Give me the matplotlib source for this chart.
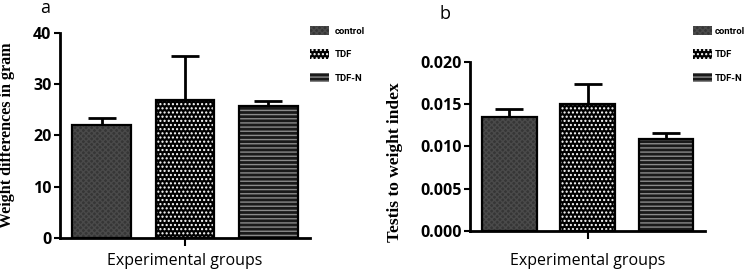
import matplotlib
matplotlib.use("Agg")
import matplotlib.pyplot as plt
from matplotlib.patches import Patch
import numpy as np

groups = ["control", "TDF", "TDF-N"]

weight_mean = [22.1, 26.9, 25.8]
weight_err = [1.3, 8.6, 0.9]

index_mean = [0.01348, 0.01506, 0.01087]
index_err = [0.00091, 0.00233, 0.00067]

# face, hatch, hatch colour per group
styles = [("#363636", "xxxxxx", "#4a4a4a"),
          ("#000000", "....", "#ffffff"),
          ("#1a1a1a", "----", "#8a8a8a")]

plt.rcParams["hatch.linewidth"] = 1.0
plt.rcParams["font.family"] = ["Open Sans", "DejaVu Sans"]

fig = plt.figure(figsize=(7.49, 2.72), dpi=100)
axA = fig.add_axes([0.080, 0.125, 0.334, 0.754])
axB = fig.add_axes([0.6275, 0.151, 0.314, 0.621])


def draw(ax, means, errs, ylim, yticks, fmt, ylabel, ylab_fs):
    x = np.arange(len(groups))
    for i in range(len(groups)):
        face, hatch, hc = styles[i]
        ax.bar(x[i], means[i], width=0.7, color=face, edgecolor=hc,
               hatch=hatch, linewidth=0, zorder=2)
        ax.bar(x[i], means[i], width=0.7, fill=False, edgecolor="black",
               linewidth=1.6, zorder=3)
    ax.errorbar(x, means, yerr=[np.zeros(len(errs)), errs], fmt="none",
                ecolor="black", elinewidth=2, capsize=10, capthick=2, zorder=1)
    ax.set_xlim(-0.5, 2.5)
    ax.set_ylim(*ylim)
    ax.set_yticks(yticks)
    ax.set_yticklabels([fmt.format(v) for v in yticks], fontweight="bold",
                       fontsize=11.5)
    ax.set_xticks([1])
    ax.set_xticklabels([""])
    ax.tick_params(axis="x", length=6, width=1.5, direction="out")
    ax.tick_params(axis="y", length=4, width=1.5, direction="out", pad=2)
    for s in ["top", "right"]:
        ax.spines[s].set_visible(False)
    for s in ["left", "bottom"]:
        ax.spines[s].set_linewidth(2)
    ax.set_ylabel(ylabel, family=["Liberation Serif"], fontweight="bold",
                  fontsize=ylab_fs)
    ax.set_xlabel("Experimental groups", fontsize=11.5)


draw(axA, weight_mean, weight_err, (0, 40), [0, 10, 20, 30, 40], "{:g}",
     "Weight differences in gram", 11.6)
draw(axB, index_mean, index_err, (0, 0.020),
     [0.0, 0.005, 0.010, 0.015, 0.020], "{:.3f}", "Testis to weight index", 12.5)
axA.yaxis.set_label_coords(-0.18, 0.5)
axB.yaxis.set_label_coords(-0.285, 0.41)
axA.xaxis.set_label_coords(0.5, -0.073)
axB.xaxis.set_label_coords(0.5, -0.13)

handles = [Patch(facecolor=s[0], edgecolor=s[2], hatch=s[1], linewidth=0)
           for s in styles]
for lx, pad in [(310 / 749, 0.6), (693 / 749, 0.3)]:
    leg = fig.legend(handles, groups, loc="upper left",
                     bbox_to_anchor=(lx, 1 - 26 / 272),
                     frameon=False, handlelength=2.0,
                     handleheight=1.1, labelspacing=1.45, handletextpad=pad,
                     borderaxespad=0, borderpad=0,
                     prop={"family": "Roboto", "weight": "bold", "size": 6.8})

fig.text(45 / 749, 1 - 8 / 272, "a", fontsize=13, ha="center", va="center")
fig.text(445 / 749, 1 - 14 / 272, "b", fontsize=13, ha="center", va="center")

fig.savefig("out.png", dpi=100)
